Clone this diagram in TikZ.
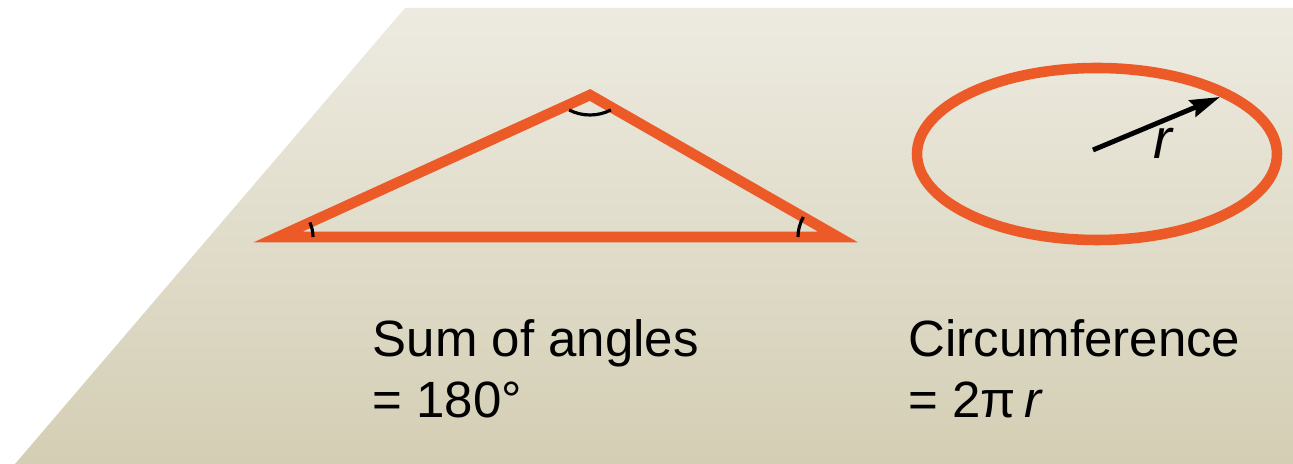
\documentclass[tikz,border=0pt]{standalone}
\usepackage{fontspec}
\setmainfont{Liberation Sans}
\usetikzlibrary{arrows.meta}

\definecolor{rimorange}{RGB}{236,90,40}
\definecolor{planetop}{RGB}{237,235,225}
\definecolor{planebottom}{RGB}{212,206,180}

\begin{document}
\begin{tikzpicture}[x=0.01cm, y=0.01cm,
    rim/.style={line width=3pt, draw=rimorange, line join=miter},
    anglemark/.style={line width=0.9pt, black},
    caption/.style={anchor=base west, inner sep=0pt, font=\fontsize{14.5}{17}\selectfont}]
  \useasboundingbox (0,0) rectangle (1293,464);

  % Plane
  \shade[top color=planetop, bottom color=planebottom]
    (15,0) -- (405,456) -- (1293,456) -- (1293,0) -- cycle;

  % Triangle
  \coordinate (A) at (278,227);
  \coordinate (B) at (590,369);
  \coordinate (C) at (838,227);
  \draw[rim] (A) -- (B) -- (C) -- cycle;

  % Angle marks
  \draw[anglemark] ([shift={(0:35)}]A) arc[start angle=0, end angle=24.5, radius=35];
  \draw[anglemark] ([shift={(243:46)}]590,395) arc[start angle=243, end angle=297, radius=46];
  \draw[anglemark] ([shift={(150:40)}]C) arc[start angle=150, end angle=180, radius=40];

  % Circle seen in perspective
  \coordinate (O) at (1097,310);
  \draw[rim] (O) ellipse[x radius=180, y radius=86];

  % Radius
  \coordinate (centre) at (1093,314);
  \coordinate (rimpoint) at (1220,367);
  \draw[-{Stealth[length=8.5pt, width=5pt, inset=1pt]}, line width=1.4pt] (centre) -- (rimpoint);
  \node[font=\fontsize{16}{18}\selectfont\itshape] (rlabel) at (1163,321) {r};

  % Captions
  \node[caption] (sumtext) at (372,107) {Sum of angles};
  \node[caption] (sumvalue) at (372,46) {= 180°};
  \node[caption] (circtext) at (908,107) {Circumference};
  \node[caption] (circvalue) at (908,46) {= 2π\,\textit{r}};
\end{tikzpicture}
\end{document}
